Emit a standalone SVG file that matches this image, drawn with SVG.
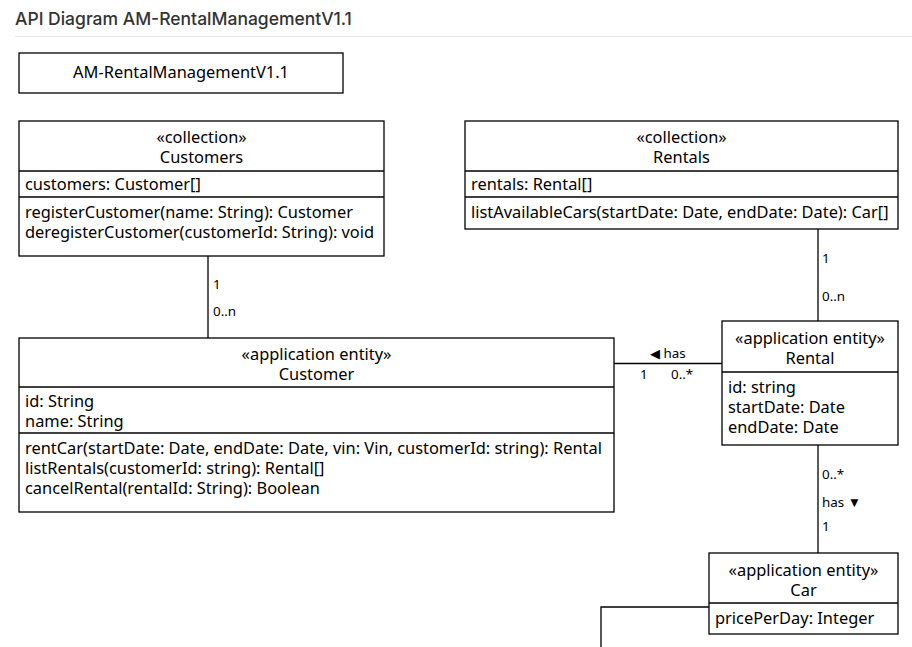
<svg xmlns="http://www.w3.org/2000/svg" width="912" height="647" viewBox="0 0 912 647">
<style>
.box{fill:#fff;stroke:#000;stroke-width:1.3}
.div{stroke:#000;stroke-width:1.3}
.t{font-family:"Noto Sans","Open Sans",sans-serif;font-size:16.4px;fill:#000}
.c{text-anchor:middle}
.s{font-family:"Noto Sans","Open Sans",sans-serif;font-size:13.4px;fill:#000}
.ln{fill:none;stroke:#000;stroke-width:1.3}
</style>
<rect width="912" height="647" fill="#fff"/>
<text x="15" y="25" font-family="Inter,'Noto Sans',sans-serif" font-size="17.5" font-weight="500" fill="#333">API Diagram AM-RentalManagementV1.1</text>
<line x1="15" y1="36.5" x2="912" y2="36.5" stroke="#e5e5e5" stroke-width="1"/>

<g id="connectors">
<polyline class="ln" points="208,256 208,338"/>
<text class="s" x="213" y="289">1</text>
<text class="s" x="213" y="316">0..n</text>
<polyline class="ln" points="818,229 818,321"/>
<text class="s" x="822" y="263">1</text>
<text class="s" x="822" y="301">0..n</text>
<polyline class="ln" points="614,363.5 722,363.5"/>
<text class="s" x="650" y="358">◀ has</text>
<text class="s" x="640" y="379">1</text>
<text class="s" x="671" y="379">0..*</text>
<polyline class="ln" points="818,445 818,553"/>
<text class="s" x="822" y="479">0..*</text>
<text class="s" x="822" y="507">has ▼</text>
<text class="s" x="822" y="531">1</text>
<polyline class="ln" points="709,607 601,607 601,647"/>
</g>

<g id="api">
<rect class="box" x="19" y="53" width="324" height="40"/>
<text class="t c" x="181" y="78">AM-RentalManagementV1.1</text>
</g>

<g id="customers">
<rect class="box" x="19" y="121" width="365" height="135"/>
<line class="div" x1="19" y1="171" x2="384" y2="171"/>
<line class="div" x1="19" y1="197" x2="384" y2="197"/>
<text class="t c" x="201.5" y="143">«collection»</text>
<text class="t c" x="201.5" y="163">Customers</text>
<text class="t" x="25" y="190">customers: Customer[]</text>
<text class="t" x="25" y="218">registerCustomer(name: String): Customer</text>
<text class="t" x="25" y="238">deregisterCustomer(customerId: String): void</text>
</g>

<g id="rentals">
<rect class="box" x="465" y="121" width="433" height="108"/>
<line class="div" x1="465" y1="171" x2="898" y2="171"/>
<line class="div" x1="465" y1="197" x2="898" y2="197"/>
<text class="t c" x="681.5" y="143">«collection»</text>
<text class="t c" x="681.5" y="163">Rentals</text>
<text class="t" x="471" y="190">rentals: Rental[]</text>
<text class="t" x="471" y="218">listAvailableCars(startDate: Date, endDate: Date): Car[]</text>
</g>

<g id="customer">
<rect class="box" x="19" y="338" width="595" height="174"/>
<line class="div" x1="19" y1="387" x2="614" y2="387"/>
<line class="div" x1="19" y1="433" x2="614" y2="433"/>
<text class="t c" x="316.5" y="360">«application entity»</text>
<text class="t c" x="316.5" y="380">Customer</text>
<text class="t" x="25" y="407">id: String</text>
<text class="t" x="25" y="427">name: String</text>
<text class="t" x="25" y="454">rentCar(startDate: Date, endDate: Date, vin: Vin, customerId: string): Rental</text>
<text class="t" x="25" y="474">listRentals(customerId: string): Rental[]</text>
<text class="t" x="25" y="494">cancelRental(rentalId: String): Boolean</text>
</g>

<g id="rental">
<rect class="box" x="722" y="321" width="176" height="124"/>
<line class="div" x1="722" y1="372" x2="898" y2="372"/>
<text class="t c" x="810" y="344">«application entity»</text>
<text class="t c" x="810" y="364">Rental</text>
<text class="t" x="728" y="393">id: string</text>
<text class="t" x="728" y="413">startDate: Date</text>
<text class="t" x="728" y="433">endDate: Date</text>
</g>

<g id="car">
<rect class="box" x="709" y="553" width="189" height="81"/>
<line class="div" x1="709" y1="603" x2="898" y2="603"/>
<text class="t c" x="803.5" y="576">«application entity»</text>
<text class="t c" x="803.5" y="596">Car</text>
<text class="t" x="715" y="624">pricePerDay: Integer</text>
</g>
</svg>
